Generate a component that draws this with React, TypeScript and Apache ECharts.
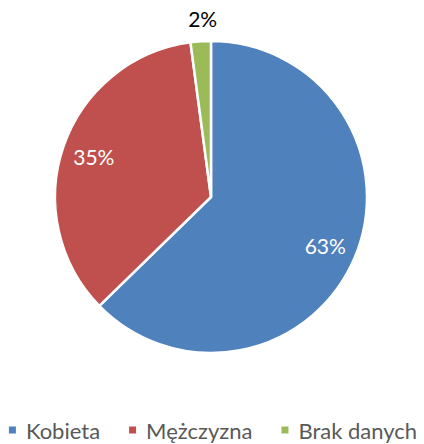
import React, { useEffect, useRef } from "react";
import * as echarts from "echarts";

const categories = ["Kobieta", "Mężczyzna", "Brak danych"];
const values = [62.7, 35.2, 2.1];
const colors = ["#4F81BD", "#C0504D", "#9BBB59"];

export default function App() {
  const ref = useRef<HTMLDivElement>(null);
  useEffect(() => {
    if (!ref.current) return;
    const chart = echarts.init(ref.current, undefined, { renderer: "svg" });
    const fmt = (p: any) => Math.round(p.percent) + "%";
    const font = "Lato, 'Open Sans', sans-serif";
    const mainData = categories.map((name, i) => ({
      name,
      value: values[i],
      itemStyle: { color: colors[i] },
      label:
        i === 2
          ? {
              show: true,
              position: "outside",
              distanceToLabelLine: -18,
              color: "#000",
              fontSize: 21,
              fontFamily: font,
              formatter: fmt,
            }
          : { show: false },
    }));
    const labelData = categories.map((name, i) => ({
      name,
      value: values[i],
      label: i === 2 ? { show: false } : { show: true },
    }));
    chart.setOption({
      animation: false,
      legend: {
        top: 419,
        left: "center",
        padding: 0,
        icon: "rect",
        itemWidth: 9,
        itemHeight: 9,
        itemGap: 27,
        textStyle: { color: "#595959", fontSize: 22, fontFamily: font, padding: [0, 0, 0, 4] },
        data: categories,
      },
      series: [
        {
          type: "pie",
          center: [211, 197],
          radius: [0, 156],
          startAngle: 90,
          clockwise: true,
          itemStyle: { borderColor: "#fff", borderWidth: 2.5 },
          labelLine: { show: false, length: 23, length2: 0 },
          label: { show: false },
          emphasis: { disabled: true },
          data: mainData,
        },
        {
          type: "pie",
          center: [211, 197],
          radius: [86, 156],
          startAngle: 90,
          clockwise: true,
          silent: true,
          legendHoverLink: false,
          itemStyle: { color: "rgba(0,0,0,0)" },
          label: { position: "inside", color: "#fff", fontSize: 21, fontFamily: font, formatter: fmt },
          labelLine: { show: false },
          emphasis: { disabled: true },
          data: labelData,
        },
      ],
    });
    return () => chart.dispose();
  }, []);
  return (
    <div
      ref={ref}
      style={{ position: "fixed", left: 0, top: 0, width: 424, height: 444, background: "#fff" }}
    />
  );
}
